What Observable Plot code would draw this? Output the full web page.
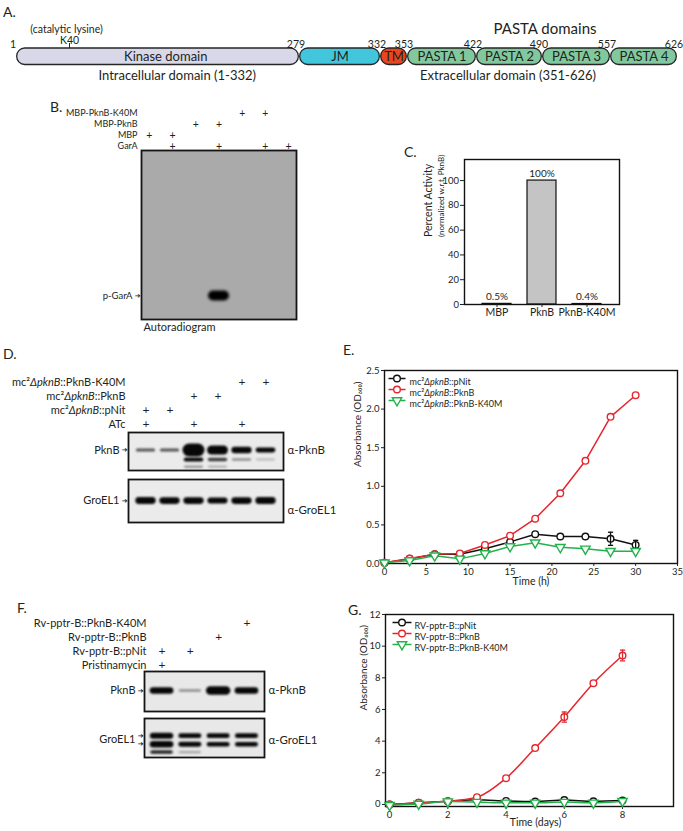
<!DOCTYPE html>
<html>
<head>
<meta charset="utf-8">
<script src="https://cdn.jsdelivr.net/npm/d3@7"></script>
<script src="https://cdn.jsdelivr.net/npm/@observablehq/plot@0.6"></script>
<style>
html,body{margin:0;padding:0;background:#fff;}
#fig{position:relative;width:683px;height:831px;overflow:hidden;background:#fff;font-family:Lato,"Noto Sans",sans-serif;color:#231f20;}
#fig svg{position:absolute;left:0;top:0;overflow:visible;max-width:none;}
.tag{position:absolute;font-size:14px;line-height:16px;}
</style>
</head>
<body>
<div id="fig"></div>
<script>
// ================= DATA =================
// Panel A – PknB domain architecture
const domainNames  = ["Kinase domain", "JM", "TM", "PASTA 1", "PASTA 2", "PASTA 3", "PASTA 4"];
const domainStart  = [1, 279, 332, 353, 422, 490, 557];
const domainEnd    = [279, 332, 353, 422, 490, 557, 626];
const boundaryResidues = [1, 279, 332, 353, 422, 490, 557, 626];
const siteResidue  = [40];
const siteLabel    = "K40";
const siteNote     = "(catalytic lysine)";
const regionNames  = ["Intracellular domain (1-332)", "Extracellular domain (351-626)"];
const regionStart  = [1, 351];
const regionEnd    = [332, 626];
const pastaTitle   = "PASTA domains";

// Panel B – kinase assay autoradiogram
const bLanes    = [1, 2, 3, 4, 5, 6, 7];
const bRows     = ["MBP-PknB-K40M", "MBP-PknB", "MBP", "GarA"];
const bRowLanes = [[5, 6], [3, 4], [1, 2], [2, 4, 6, 7]];
const bBands    = [{mig: 0.858, signal: [0, 0, 0, 1, 0, 0, 0]}];
const bMarkers  = [{label: "p-GarA", migs: [0.858]}];
const bCaption  = "Autoradiogram";

// Panel C – percent activity
const cCategories = ["MBP", "PknB", "PknB-K40M"];
const cActivity   = [0.5, 100, 0.4];
const cLabels     = ["0.5%", "100%", "0.4%"];
const cTicks      = [0, 20, 40, 60, 80, 100];

// Panel D – western blots
const dLanes    = [1, 2, 3, 4, 5, 6];
const dRows     = ["mc²ΔpknB::PknB-K40M", "mc²ΔpknB::PknB", "mc²ΔpknB::pNit", "ATc"];
const dRowLanes = [[5, 6], [3, 4], [1, 2], [1, 3, 5]];
const dPknBBands = [
  {mig: 0.46, signal: [0.1, 0.1, 1.0, 0.65, 0.4, 0.26]},
  {mig: 0.71, signal: [0, 0, 0.18, 0.12, 0.05, 0.015]},
  {mig: 0.90, signal: [0, 0, 0.04, 0.02, 0, 0]}
];
const dGroELBands = [{mig: 0.49, signal: [0.45, 0.42, 0.42, 0.36, 0.42, 0.45]}];

// Panel E – growth, mc2ΔpknB strains
const eTime = [0, 3, 6, 9, 12, 15, 18, 21, 24, 27, 30];
const ePNit     = [0.01, 0.06, 0.12, 0.12, 0.19, 0.28, 0.38, 0.35, 0.35, 0.32, 0.24];
const ePNitErr  = [0, 0, 0.01, 0.01, 0.01, 0.015, 0.015, 0.03, 0.035, 0.085, 0.06];
const ePknB     = [0.01, 0.065, 0.12, 0.13, 0.24, 0.36, 0.58, 0.91, 1.33, 1.9, 2.18];
const ePknBErr  = [0, 0, 0.01, 0.01, 0.01, 0.012, 0.015, 0.025, 0.035, 0.015, 0.025];
const eK40M     = [0.01, 0.04, 0.10, 0.06, 0.13, 0.22, 0.27, 0.21, 0.19, 0.16, 0.16];
const eK40MErr  = [0, 0, 0.01, 0.01, 0.01, 0.015, 0.01, 0.015, 0.015, 0.01, 0.01];
const eNames    = ["mc²ΔpknB::pNit", "mc²ΔpknB::PknB", "mc²ΔpknB::PknB-K40M"];
const eTicksX   = [0, 5, 10, 15, 20, 25, 30, 35];
const eTicksY   = [0, 0.5, 1.0, 1.5, 2.0, 2.5];

// Panel F – western blots
const fLanes    = [1, 2, 3, 4];
const fRows     = ["Rv-pptr-B::PknB-K40M", "Rv-pptr-B::PknB", "Rv-pptr-B::pNit", "Pristinamycin"];
const fRowLanes = [[4], [3], [1, 2], [1]];
const fPknBBands  = [{mig: 0.475, signal: [0.42, 0.05, 0.6, 0.4]}];
const fGroELBands = [
  {mig: 0.44, signal: [0.36, 0.24, 0.24, 0.26]},
  {mig: 0.66, signal: [0.42, 0.26, 0.22, 0.24]},
  {mig: 0.86, signal: [0.14, 0.03, 0, 0]}
];

// Panel G – growth, Rv-pptr-B strains
const gDays = [0, 1, 2, 3, 4, 5, 6, 7, 8];
const gPNit    = [0.0, 0.1, 0.2, 0.3, 0.22, 0.18, 0.28, 0.2, 0.25];
const gPNitErr = [0, 0, 0, 0, 0, 0, 0, 0, 0];
const gPknB    = [0.0, 0.1, 0.2, 0.46, 1.66, 3.56, 5.52, 7.66, 9.41];
const gPknBErr = [0, 0, 0, 0.05, 0.08, 0.1, 0.32, 0.12, 0.34];
const gK40M    = [-0.05, 0.03, 0.18, 0.15, 0.1, 0.1, 0.15, 0.1, 0.2];
const gK40MErr = [0, 0, 0, 0, 0, 0, 0, 0, 0];
const gNames   = ["RV-pptr-B::pNit", "RV-pptr-B::PknB", "RV-pptr-B::PknB-K40M"];
const gTicksX  = [0, 2, 4, 6, 8];
const gTicksY  = [0, 2, 4, 6, 8, 10, 12];

const panelTags = ["A.", "B.", "C.", "D.", "E.", "F.", "G."];

// ================= LAYOUT / STYLE =================
const W = 683, H = 831;
const FONT = 'Lato, "Noto Sans", "DejaVu Sans", sans-serif';
const INK = "#231f20";
const RED = "#e5262d", GREEN = "#22b24c", BLACK = "#111111";
const fig = document.getElementById("fig");
let uid = 0;

function area(x1, x2, y1, y2) {
  return {
    width: W, height: H,
    marginLeft: x1, marginRight: W - x2, marginTop: y1, marginBottom: H - y2,
    style: {background: "none", overflow: "visible", fontFamily: FONT, color: INK, maxWidth: "none"}
  };
}
function italicize(node) {
  if (node.children.length) return;
  const s = node.textContent;
  if (!/pknB/.test(s)) return;
  node.textContent = "";
  for (const p of s.split(/(Δ?pknB)/)) {
    if (!p) continue;
    const t = document.createElementNS("http://www.w3.org/2000/svg", "tspan");
    if (/pknB/.test(p)) t.setAttribute("font-style", "italic");
    t.textContent = p;
    node.appendChild(t);
  }
}
function mount(svg, blur) {
  const s = d3.select(svg);
  if (blur) {
    const id = "soft" + (++uid);
    s.insert("defs", ":first-child").append("filter").attr("id", id)
      .attr("filterUnits", "userSpaceOnUse").attr("x", 0).attr("y", 0).attr("width", W).attr("height", H)
      .append("feGaussianBlur").attr("stdDeviation", blur);
    // the blot bands are the only tick marks in a blot plot
    s.selectAll('g[aria-label="tick"]').attr("filter", `url(#${id})`);
  }
  s.selectAll("text").each(function () { italicize(this); });
  fig.appendChild(svg);
}
const hline = {draw(ctx, size) { const r = Math.sqrt(size / Math.PI); ctx.moveTo(-r, 0); ctx.lineTo(r, 0); }};

// ================= PANEL A =================
{
  const domains = domainNames.map((name, i) => ({name, start: domainStart[i], end: domainEnd[i]}));
  const fillOf = n => n === "Kinase domain" ? "#d9d8e9" : n === "JM" ? "#41c6dc" : n === "TM" ? "#e8461e" : "#82c89f";
  const regions = regionNames.map((name, i) => ({name, mid: (regionStart[i] + regionEnd[i]) / 2}));
  const marks = [];
  for (const d of domains) {
    marks.push(Plot.rect([d], {x1: "start", x2: "end", fill: fillOf(d.name), stroke: "#262626", strokeWidth: 1.3, rx: 8, insetLeft: 0.7, insetRight: 0.7}));
  }
  marks.push(
    Plot.text(domains, {x: d => (d.start + d.end) / 2, text: "name", frameAnchor: "middle", fontSize: 13, dy: 0.5}),
    Plot.text(boundaryResidues, {x: d => d, text: d => String(d), frameAnchor: "top", dy: -8, dx: -3.5, fontSize: 10.5}),
    Plot.ruleX(siteResidue, {x: d => d, insetTop: -5, insetBottom: 16.5, stroke: "#262626", strokeWidth: 1}),
    Plot.text(siteResidue, {x: d => d, text: () => siteLabel, frameAnchor: "top", dy: -11.5, fontSize: 10.5}),
    Plot.text(siteResidue, {x: d => d, text: () => siteNote, frameAnchor: "top", dy: -23, dx: -3, fontSize: 10.5}),
    Plot.text([regions[0]], {x: "mid", text: "name", frameAnchor: "bottom", dy: 15, dx: -14, fontSize: 13}),
    Plot.text([regions[1]], {x: "mid", text: "name", frameAnchor: "bottom", dy: 15, dx: -33, fontSize: 13}),
    Plot.text([pastaTitle], {x: () => (domainStart[3] + domainEnd[6]) / 2, text: d => d, frameAnchor: "top", dy: -25, dx: 3, fontSize: 15})
  );
  mount(Plot.plot({
    ...area(0, W, 48, 64.5),
    x: {type: "linear", domain: [1, 40, 279, 332, 353, 422, 490, 557, 626], range: [16, 69, 299, 380, 407, 476, 542, 610, 677], axis: null},
    marks
  }));
}

// ================= helpers for blots =================
function headerPlot({lanes, rows, rowLanes, x1, x2, yFirst, yLast, pi, po, labelDx, fontSize, plusSize}) {
  const plus = rows.flatMap((row, i) => rowLanes[i].map(lane => ({row, lane})));
  mount(Plot.plot({
    ...area(x1, x2, yFirst, yLast),
    x: {type: "band", domain: lanes, paddingInner: pi, paddingOuter: po, axis: null, round: false},
    y: {type: "point", domain: rows, padding: 0, axis: null},
    marks: [
      Plot.text(rows, {y: d => d, text: d => d, frameAnchor: "left", textAnchor: "end", dx: labelDx, fontSize}),
      Plot.text(plus, {x: "lane", y: "row", text: () => "+", fontSize: plusSize})
    ]
  }));
}
function blotPlot(cfg) {
  const {lanes, frame: [x1, x2, y1, y2], pi, po} = cfg;
  const n = lanes.length;
  const step = (x2 - x1) / (n - pi + 2 * po);
  const bw = step * (1 - pi);
  const bands = cfg.bands.flatMap(row => row.signal.map((s, i) => ({lane: lanes[i], mig: row.mig, s}))).filter(d => d.s > 0);
  const marks = [Plot.frame({fill: cfg.fill, stroke: "none"})];
  for (const b of bands) {
    const T = cfg.thick(b.s), Wd = cfg.wide(b.s);
    const len = Math.max(0.2, Wd - T);
    marks.push(Plot.tickY([b], {x: "lane", y: "mig", stroke: "#050505", strokeOpacity: cfg.opacity(b.s), strokeWidth: T, strokeLinecap: "round", inset: (bw - len) / 2}));
  }
  marks.push(Plot.frame({stroke: "#151515", strokeWidth: 1.8}));
  for (const m of cfg.markers) {
    marks.push(Plot.text([m], {y: d => d3.mean(d.migs), text: "label", frameAnchor: "left", textAnchor: "end", dx: -9, fontSize: cfg.labelSize}));
    marks.push(Plot.text(m.migs, {y: d => d, text: () => "➔", frameAnchor: "left", textAnchor: "end", dx: -1, fontSize: 7, fontFamily: "DejaVu Sans"}));
  }
  if (cfg.antibody) {
    marks.push(Plot.text([cfg.antibody], {y: () => d3.mean(cfg.markers[0].migs), text: d => d, frameAnchor: "right", textAnchor: "start", dx: 4, dy: cfg.antibodyDy || 0, fontSize: cfg.labelSize + 0.5}));
  }
  if (cfg.caption) {
    marks.push(Plot.text([cfg.caption], {text: d => d, frameAnchor: "bottom-left", textAnchor: "start", dx: 2, dy: 11, fontSize: 11}));
  }
  mount(Plot.plot({
    ...area(x1, x2, y1, y2),
    x: {type: "band", domain: lanes, paddingInner: pi, paddingOuter: po, axis: null, round: false},
    y: {domain: [0, 1], reverse: true, axis: null},
    marks
  }), cfg.blur);
}

// ================= PANEL B =================
headerPlot({lanes: bLanes, rows: bRows, rowLanes: bRowLanes, x1: 141, x2: 296, yFirst: 113, yLast: 146, pi: 0.32, po: 0, labelDx: -4, fontSize: 9, plusSize: 10.5});
blotPlot({
  lanes: bLanes, frame: [141, 296, 150, 319], pi: 0.32, po: 0, fill: "#aaaaaa",
  bands: bBands, thick: s => 10 * s, wide: () => 21, opacity: () => 1, blur: 1.6,
  markers: bMarkers, labelSize: 9.5, caption: bCaption
});

// ================= PANEL C =================
{
  const data = cCategories.map((c, i) => ({c, v: cActivity[i], label: cLabels[i]}));
  mount(Plot.plot({
    ...area(464, 619, 159, 304),
    x: {type: "band", domain: cCategories, paddingInner: 0.35, paddingOuter: 0.36},
    y: {domain: [0, 117]},
    marks: [
      Plot.barY(data, {x: "c", y: "v", fill: "#c4c4c4", stroke: BLACK, strokeWidth: 1.2}),
      Plot.text(data, {x: "c", y: "v", text: "label", dy: -7, fontSize: 10}),
      Plot.frame({stroke: BLACK, strokeWidth: 1.4}),
      Plot.axisY({ticks: cTicks, tickSize: 4, tickPadding: 1.5, fontSize: 9.5, label: null}),
      Plot.axisX({tickSize: 3, tickPadding: 1.5, fontSize: 10.5, label: null}),
      Plot.text(["Percent Activity"], {text: d => d, frameAnchor: "left", rotate: -90, dx: -36, dy: 5, fontSize: 10.5}),
      Plot.text(["(normalized w.r.t. PknB)"], {text: d => d, frameAnchor: "left", rotate: -90, dx: -23, dy: 5, fontSize: 8})
    ]
  }));
}

// ================= PANEL D =================
headerPlot({lanes: dLanes, rows: dRows, rowLanes: dRowLanes, x1: 128, x2: 283, yFirst: 382, yLast: 424, pi: 0.1, po: 0.279, labelDx: -3, fontSize: 11, plusSize: 12});
const dThick = s => 2 + 11 * s, dOpacity = s => Math.min(0.97, 0.15 + 5 * s);
blotPlot({
  lanes: dLanes, frame: [128, 283, 432, 470], pi: 0.1, po: 0.279, fill: "#ebebeb",
  bands: dPknBBands, thick: dThick, wide: s => 19 + 3 * s, opacity: dOpacity, blur: 1.1,
  markers: [{label: "PknB", migs: [0.46]}], antibody: "α-PknB", labelSize: 11
});
blotPlot({
  lanes: dLanes, frame: [128, 283, 479, 522], pi: 0.1, po: 0.279, fill: "#ebebeb",
  bands: dGroELBands, thick: dThick, wide: s => 19 + 3 * s, opacity: dOpacity, blur: 1.1,
  markers: [{label: "GroEL1", migs: [0.49]}], antibody: "α-GroEL1", antibodyDy: 10, labelSize: 11
});

// ================= PANEL F =================
headerPlot({lanes: fLanes, rows: fRows, rowLanes: fRowLanes, x1: 144, x2: 264, yFirst: 622, yLast: 666, pi: 0.1, po: 0.17, labelDx: 2, fontSize: 11, plusSize: 12});
blotPlot({
  lanes: fLanes, frame: [144, 264, 671, 711], pi: 0.1, po: 0.17, fill: "#e8e8e8",
  bands: fPknBBands, thick: dThick, wide: s => 22 + 4 * s, opacity: dOpacity, blur: 1.1,
  markers: [{label: "PknB", migs: [0.475]}], antibody: "α-PknB", labelSize: 11
});
blotPlot({
  lanes: fLanes, frame: [144, 264, 718, 757], pi: 0.1, po: 0.17, fill: "#e8e8e8",
  bands: fGroELBands, thick: dThick, wide: s => 22 + 4 * s, opacity: dOpacity, blur: 1.2,
  markers: [{label: "GroEL1", migs: [0.44, 0.66]}], antibody: "α-GroEL1", labelSize: 11
});

// ================= growth curves =================
function growthPlot(cfg) {
  const [x1, x2, y1, y2] = cfg.frame;
  const marks = [
    Plot.frame({stroke: BLACK, strokeWidth: 1.4}),
    Plot.axisX({ticks: cfg.xTicks, tickSize: 3, tickPadding: 1.5, fontSize: 9.5, label: null, tickFormat: cfg.xFormat}),
    Plot.axisY({ticks: cfg.yTicks, tickSize: 3, tickPadding: 2, fontSize: 9.5, label: null, tickFormat: cfg.yFormat})
  ];
  const series = cfg.series.map(s => ({...s, rows: cfg.x.map((t, j) => ({t, v: s.values[j], e: s.err[j]}))}));
  for (const s of series) marks.push(Plot.line(s.rows, {x: "t", y: "v", stroke: s.color, strokeWidth: 1.5, curve: cfg.curve}));
  for (const s of series) {
    marks.push(Plot.dot(s.rows, {x: "t", y: "v", r: s.tri ? 3.5 : 3.3, symbol: s.tri ? "triangle" : "circle", rotate: s.tri ? 180 : 0, fill: "white", stroke: s.color, strokeWidth: 1.4}));
    const er = s.rows.filter(d => d.e > 0.02 * cfg.y[1]);
    marks.push(Plot.ruleX(er, {x: "t", y1: d => d.v - d.e, y2: d => d.v + d.e, stroke: s.color, strokeWidth: 1.3}));
    marks.push(Plot.dot(er, {x: "t", y: d => d.v + d.e, symbol: hline, r: 2.6, stroke: s.color, strokeWidth: 1.3}));
    marks.push(Plot.dot(er, {x: "t", y: d => d.v - d.e, symbol: hline, r: 2.6, stroke: s.color, strokeWidth: 1.3}));
  }
  const L = cfg.legend;
  series.forEach((s, i) => {
    const dy = L.y0 + i * L.step;
    marks.push(Plot.dot([s.name], {frameAnchor: "top-left", dx: L.lineX, dy, symbol: hline, r: L.half, stroke: s.color, strokeWidth: 1.5}));
    marks.push(Plot.dot([s.name], {frameAnchor: "top-left", dx: L.lineX, dy, r: s.tri ? 3.5 : 3.3, symbol: s.tri ? "triangle" : "circle", rotate: s.tri ? 180 : 0, fill: "white", stroke: s.color, strokeWidth: 1.4}));
    marks.push(Plot.text([s.name], {text: d => d, frameAnchor: "top-left", dx: L.textX, dy, textAnchor: "start", fontSize: 9}));
  });
  marks.push(Plot.text([cfg.yLabel], {text: d => d, frameAnchor: "left", rotate: -90, dx: cfg.yLabelDx, fontSize: 10}));
  marks.push(Plot.text([cfg.xLabel], {text: d => d, frameAnchor: "bottom", dy: cfg.xLabelDy, dx: cfg.xLabelDx, fontSize: 10.5}));
  mount(Plot.plot({
    ...area(x1, x2, y1, y2),
    x: {domain: cfg.xDomain},
    y: {domain: cfg.y},
    marks
  }));
}

growthPlot({
  frame: [384, 677, 370, 563], xDomain: [0, 35], y: [0, 2.5], x: eTime,
  xTicks: eTicksX, yTicks: eTicksY, yFormat: d3.format(".1f"), curve: "linear",
  series: [
    {name: eNames[0], values: ePNit, err: ePNitErr, color: BLACK},
    {name: eNames[1], values: ePknB, err: ePknBErr, color: RED},
    {name: eNames[2], values: eK40M, err: eK40MErr, color: GREEN, tri: true}
  ],
  legend: {lineX: 12.5, half: 8.5, textX: 25, y0: 8, step: 11},
  yLabel: "Absorbance (OD₆₀₀)", yLabelDx: -27, xLabel: "Time (h)", xLabelDy: 21, xLabelDx: 0
});
growthPlot({
  frame: [385, 673, 614, 806], xDomain: [-0.14, 9.75], y: [-0.13, 12], x: gDays,
  xTicks: gTicksX, yTicks: gTicksY, yFormat: d3.format("d"), curve: "monotone-x",
  series: [
    {name: gNames[0], values: gPNit, err: gPNitErr, color: BLACK},
    {name: gNames[1], values: gPknB, err: gPknBErr, color: RED},
    {name: gNames[2], values: gK40M, err: gK40MErr, color: GREEN, tri: true}
  ],
  legend: {lineX: 16.5, half: 9.5, textX: 29, y0: 8, step: 11},
  yLabel: "Absorbance (OD₆₀₀)", yLabelDx: -22, xLabel: "Time (days)", xLabelDy: 19, xLabelDx: 6
});

// ================= panel tags =================
const tagPos = [[3, 4], [50, 99], [404, 144], [3, 346], [343, 342], [17, 600], [348, 602]];
panelTags.forEach((t, i) => {
  const d = document.createElement("div");
  d.className = "tag";
  d.textContent = t;
  d.style.left = tagPos[i][0] + "px";
  d.style.top = tagPos[i][1] + "px";
  fig.appendChild(d);
});
</script>
</body>
</html>
